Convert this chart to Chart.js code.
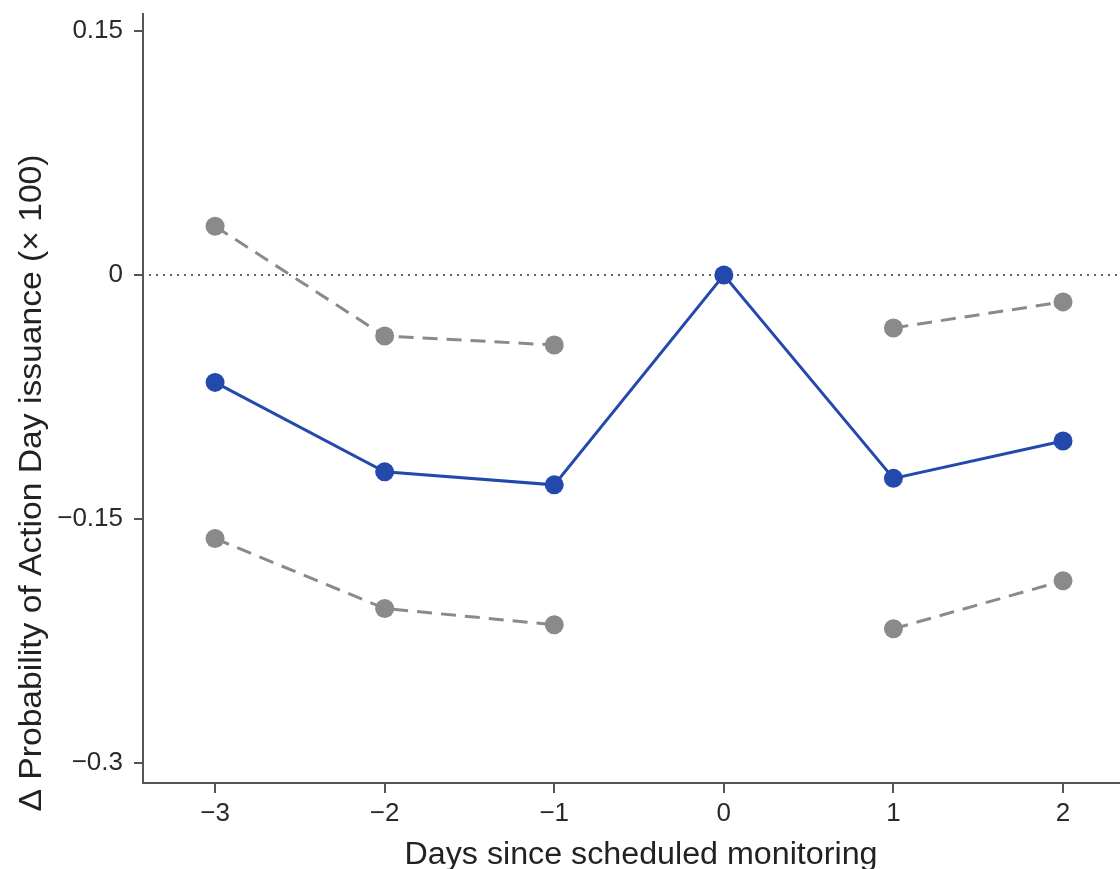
<!DOCTYPE html>
<html>
<head>
<meta charset="utf-8">
<script src="https://cdn.jsdelivr.net/npm/chart.js@4"></script>
<style>
  html, body { margin: 0; padding: 0; background: #fff; }
  #chart { display: block; }
</style>
</head>
<body>
<canvas id="chart" width="1120" height="869"></canvas>
<script>
// days relative to scheduled monitoring
const days = [-3, -2, -1, 0, 1, 2];
const estimate = [-0.066, -0.121, -0.129, 0, -0.125, -0.102];
const upperCI = [0.030, -0.0375, -0.043, null, -0.0325, -0.0165];
const lowerCI = [-0.162, -0.205, -0.215, null, -0.2175, -0.188];
const yTicks = [0.15, 0, -0.15, -0.3];

const xTitle = 'Days since scheduled monitoring';
const yTitle = '\u0394 Probability of Action Day issuance (\u00d7 100)';

const FONT = '"Liberation Sans", Arial, Helvetica, sans-serif';
const toPts = vals => days.map((d, i) => ({ x: d, y: vals[i] }));
const fmt = v => (v < 0 ? '\u2212' + Math.abs(v) : String(v));

const grey = '#8a8a8c';
const blue = '#2349ad';

const extras = {
  id: 'extras',
  beforeDatasetsDraw(chart) {
    const { ctx, chartArea, scales } = chart;
    const y0 = scales.y.getPixelForValue(0);
    ctx.save();
    ctx.strokeStyle = '#666';
    ctx.lineWidth = 2;
    ctx.setLineDash([2, 5]);
    ctx.beginPath();
    ctx.moveTo(chartArea.left + 6, y0);
    ctx.lineTo(chartArea.right, y0);
    ctx.stroke();
    ctx.restore();
  },
  afterDraw(chart) {
    const { ctx } = chart;
    ctx.save();
    ctx.fillStyle = '#222';
    ctx.textAlign = 'center';
    ctx.textBaseline = 'alphabetic';
    ctx.font = '31px ' + FONT;
    let w = ctx.measureText(xTitle).width;
    ctx.save();
    ctx.translate(641, 864);
    ctx.scale(473 / w, 1);
    ctx.fillText(xTitle, 0, 0);
    ctx.restore();

    // y title, fitted to the length of the original lettering
    ctx.font = '32px ' + FONT;
    ctx.translate(41, 483);
    ctx.rotate(-Math.PI / 2);
    w = ctx.measureText(yTitle).width;
    ctx.scale(657 / w, 1);
    ctx.fillText(yTitle, 0, 0);
    ctx.restore();
  }
};

new Chart(document.getElementById('chart'), {
  type: 'line',
  data: {
    datasets: [
      {
        label: 'upper',
        data: toPts(upperCI),
        borderColor: grey,
        backgroundColor: grey,
        borderWidth: 3,
        borderDash: [15, 9],
        pointRadius: 9.5,
        pointBorderWidth: 0,
        spanGaps: false
      },
      {
        label: 'lower',
        data: toPts(lowerCI),
        borderColor: grey,
        backgroundColor: grey,
        borderWidth: 3,
        borderDash: [15, 9],
        pointRadius: 9.5,
        pointBorderWidth: 0,
        spanGaps: false
      },
      {
        label: 'estimate',
        data: toPts(estimate),
        borderColor: blue,
        backgroundColor: blue,
        borderWidth: 3,
        pointRadius: 9.5,
        pointBorderWidth: 0
      }
    ]
  },
  options: {
    responsive: false,
    animation: false,
    devicePixelRatio: 1,
    layout: { autoPadding: false, padding: { top: 14, right: 0, left: 0, bottom: 0 } },
    plugins: {
      legend: { display: false },
      tooltip: { enabled: false }
    },
    elements: { line: { tension: 0 } },
    scales: {
      x: {
        type: 'linear',
        min: -3.425,
        max: 2.336,
        afterBuildTicks: s => { s.ticks = days.map(v => ({ value: v })); },
        afterFit: s => { s.height = 86; s.paddingLeft = 0; s.paddingRight = 0; },
        grid: { drawOnChartArea: false, drawTicks: true, tickLength: 10, color: '#555', lineWidth: 2 },
        border: { display: true, color: '#555', width: 2 },
        ticks: { color: '#2a2a2a', font: { family: FONT, size: 26 }, padding: 5, callback: fmt }
      },
      y: {
        type: 'linear',
        min: -0.3123,
        max: 0.1605,
        afterBuildTicks: s => { s.ticks = yTicks.map(v => ({ value: v })); },
        afterFit: s => { s.width = 143; s.paddingTop = 0; s.paddingBottom = 0; },
        grid: { drawOnChartArea: false, drawTicks: true, tickLength: 9, color: '#555', lineWidth: 2 },
        border: { display: true, color: '#555', width: 2 },
        ticks: { color: '#2a2a2a', font: { family: FONT, size: 26 }, padding: 11, callback: fmt }
      }
    }
  },
  plugins: [extras]
});
</script>
</body>
</html>
